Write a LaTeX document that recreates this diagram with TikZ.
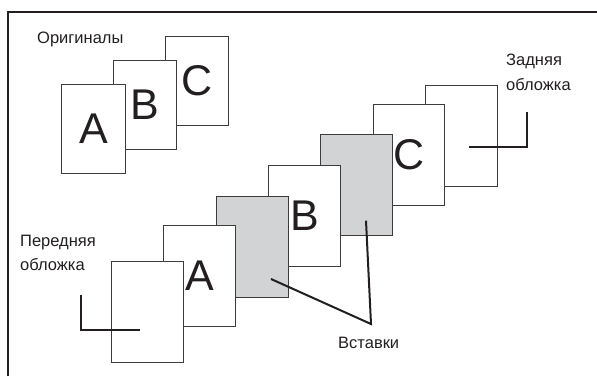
\documentclass[tikz,border=0pt]{standalone}
\usepackage{fontspec}
\setmainfont{Liberation Sans}
\definecolor{ink}{HTML}{231F20}
\definecolor{edge}{HTML}{3C3C3C}
\definecolor{insertgray}{HTML}{D1D3D4}
\begin{document}
\begin{tikzpicture}[x=1pt,y=-1pt,
  page/.style={draw=edge, line width=1.2pt, fill=white, inner sep=0pt, anchor=north west,
    font=\fontsize{43}{43}\selectfont, text=ink},
  origpage/.style={page, minimum width=63.5pt, minimum height=89pt},
  bigpage/.style={page, minimum width=71.5pt, minimum height=101pt},
  insertpage/.style={bigpage, fill=insertgray},
  cropline/.style={draw=ink, line width=2pt},
  leader/.style={draw=ink, line width=2pt},
  lbl/.style={font=\fontsize{16.5}{20}\selectfont, text=ink, inner sep=0pt, anchor=base west},
  framestyle/.style={draw=ink, line width=2pt}]
\useasboundingbox (0,0) rectangle (597,376);
\draw[framestyle] (7.5,376) -- (7.5,12) -- (597,12);
% originals
\node[origpage] (oc) at (164.5,36) {C};
\node[origpage] (ob) at (112.5,60) {B};
\node[origpage] (oa) at (61,84) {A};
\node[lbl] (origlbl) at (37,43) {Оригиналы};
% collated set, back to front
\node[bigpage] (back) at (425,84.5) {};
\node[bigpage] (sc) at (372.5,103.5) {C};
\node[insertpage] (ins2) at (320,134) {};
\node[bigpage] (sb) at (268,165) {B};
\node[insertpage] (ins1) at (216,196) {};
\node[bigpage] (sa) at (163,224.5) {A};
\node[bigpage] (front) at (111,261) {};
% crop marks
\coordinate (fm1) at (81,295);
\coordinate (fm2) at (81,330);
\coordinate (fm3) at (139.5,330);
\draw[cropline] (fm1) -- (fm2) -- (fm3);
\coordinate (bm1) at (469,146.7);
\coordinate (bm2) at (526.7,146.7);
\coordinate (bm3) at (526.7,111.7);
\draw[cropline] (bm1) -- (bm2) -- (bm3);
% leaders
\coordinate (l1) at (271,279);
\coordinate (l2) at (366,220.7);
\coordinate (lj) at (371,324);
\draw[leader] (l1) -- (lj) -- (l2);
% labels
\node[lbl] (frontlbl1) at (20,246) {Передняя};
\node[lbl] (frontlbl2) at (20,270.5) {обложка};
\node[lbl] (backlbl1) at (506,65.5) {Задняя};
\node[lbl] (backlbl2) at (506,90) {обложка};
\node[lbl] (inslbl) at (338,348.3) {Вставки};
\end{tikzpicture}
\end{document}
